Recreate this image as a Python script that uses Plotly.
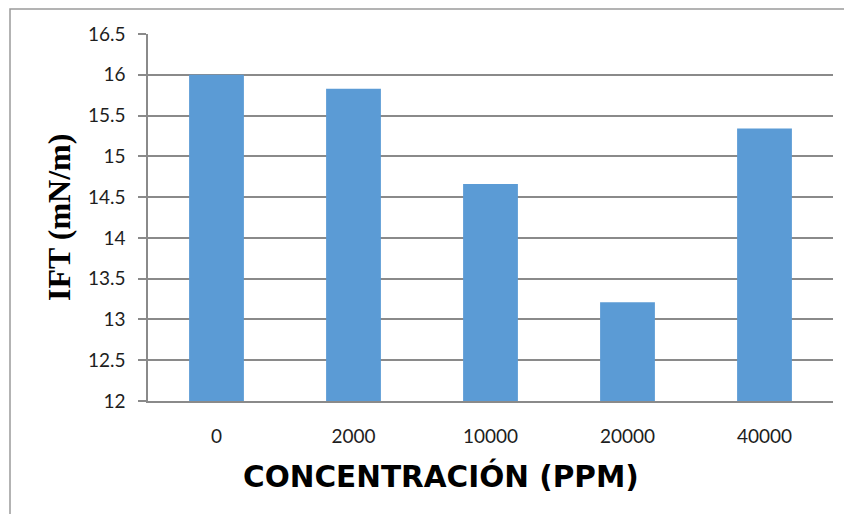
import plotly.graph_objects as go

# IFT measured at each surfactant concentration
concentrations = ["0", "2000", "10000", "20000", "40000"]
ift_values = [16.0, 15.83, 14.66, 13.21, 15.34]
y_ticks = [12, 12.5, 13, 13.5, 14, 14.5, 15, 15.5, 16, 16.5]
y_tick_text = ["12", "12.5", "13", "13.5", "14", "14.5", "15", "15.5", "16", "16.5"]

W, H = 844, 514
L, R, T, B = 148, 11, 34, 113
pw, ph = W - L - R, H - T - B


def px_x(x):
    return (x - L) / pw


def px_y(y):
    return (H - B - y) / ph


fig = go.Figure(
    go.Bar(
        x=concentrations,
        y=ift_values,
        marker=dict(color="#5B9BD5", line=dict(width=0)),
        width=0.4,
    )
)

tick_font = dict(family="Lato, Carlito, Open Sans, sans-serif", size=19, color="#1e1e1e")

fig.update_layout(
    width=W,
    height=H,
    margin=dict(l=L, r=R, t=T, b=B),
    paper_bgcolor="white",
    plot_bgcolor="white",
    showlegend=False,
    xaxis=dict(
        type="category",
        showgrid=False,
        showline=True,
        linecolor="#8a8a8a",
        linewidth=1.5,
        ticks="",
        tickfont=tick_font,
        ticklabelstandoff=17,
    ),
    yaxis=dict(
        range=[12, 16.5],
        tickvals=y_ticks,
        ticktext=y_tick_text,
        showgrid=True,
        gridcolor="#8a8a8a",
        gridwidth=1.5,
        showline=True,
        linecolor="#8a8a8a",
        linewidth=1.5,
        ticks="outside",
        ticklen=8,
        tickcolor="#8a8a8a",
        tickwidth=1.5,
        tickfont=tick_font,
        ticklabelstandoff=9,
        zeroline=False,
    ),
    shapes=[
        dict(
            type="rect",
            xref="paper",
            yref="paper",
            x0=px_x(10),
            x1=px_x(900),
            y0=px_y(600),
            y1=px_y(9),
            line=dict(color="#9a9a9a", width=1.5),
            fillcolor="rgba(0,0,0,0)",
            layer="below",
        )
    ],
    annotations=[
        dict(
            text="<b>IFT (mN/m)</b>",
            xref="paper",
            yref="paper",
            x=px_x(59),
            y=px_y(218),
            xanchor="center",
            yanchor="middle",
            showarrow=False,
            textangle=-90,
            font=dict(family="Liberation Serif, Times New Roman, serif", size=32, color="black"),
        ),
        dict(
            text="<b>CONCENTRACIÓN (PPM)</b>",
            xref="paper",
            yref="paper",
            x=px_x(441),
            y=px_y(476),
            xanchor="center",
            yanchor="middle",
            showarrow=False,
            font=dict(family="DejaVu Sans, Arial, sans-serif", size=29.5, color="black"),
        ),
    ],
)

fig.write_html("out.html")
